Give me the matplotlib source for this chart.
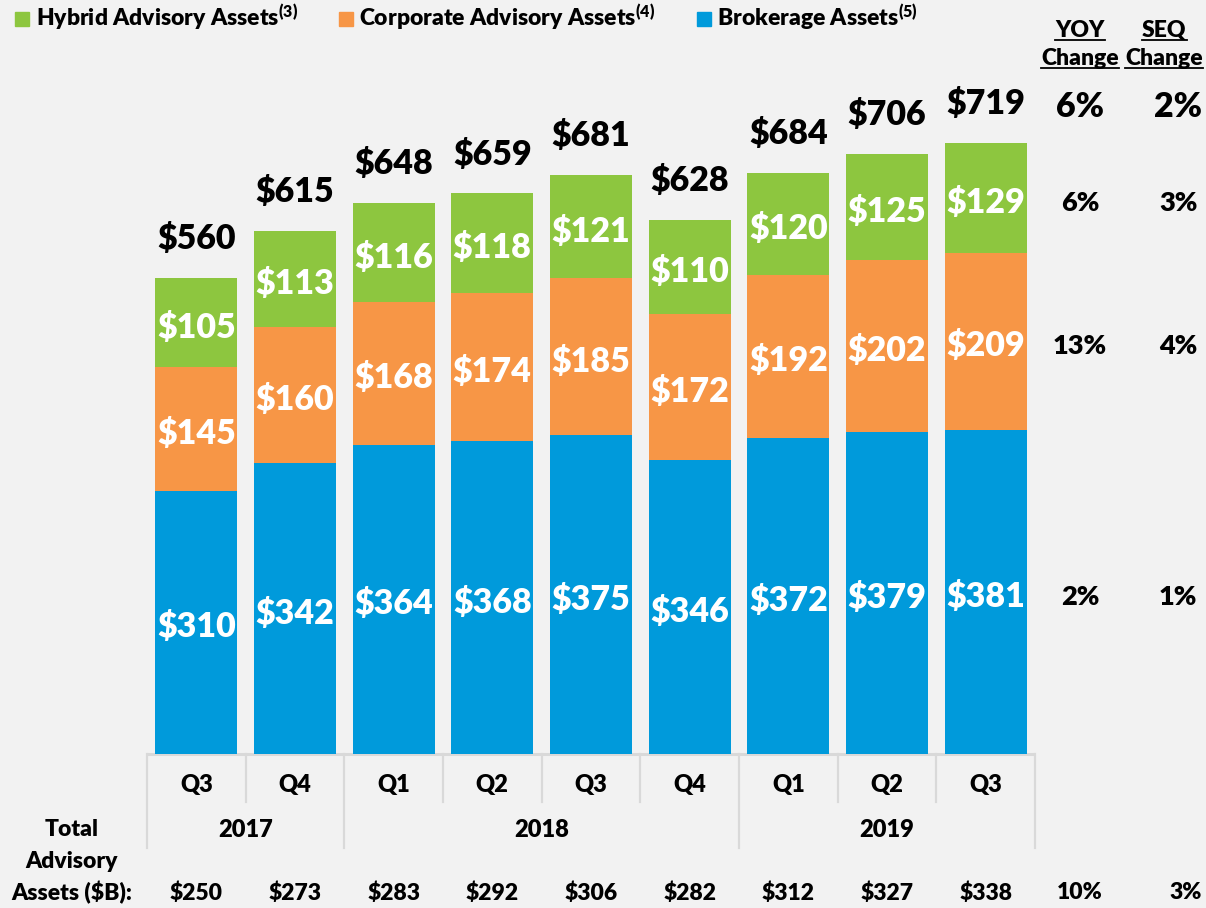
import numpy as np
import matplotlib
matplotlib.use("Agg")
import matplotlib.pyplot as plt
from matplotlib.lines import Line2D

plt.rcParams['font.family'] = ['Lato', 'DejaVu Sans']
plt.rcParams['font.weight'] = 'heavy'
plt.rcParams['mathtext.fontset'] = 'custom'
plt.rcParams['mathtext.rm'] = 'Lato:heavy'
plt.rcParams['mathtext.bf'] = 'Lato:heavy'
plt.rcParams['mathtext.default'] = 'rm'

quarters = ["Q3", "Q4", "Q1", "Q2", "Q3", "Q4", "Q1", "Q2", "Q3"]
years = ["2017", "2018", "2019"]
year_spans = [(0, 1), (2, 5), (6, 8)]
brokerage = [310, 342, 364, 368, 375, 346, 372, 379, 381]
corporate = [145, 160, 168, 174, 185, 172, 192, 202, 209]
hybrid = [105, 113, 116, 118, 121, 110, 120, 125, 129]
totals = [560, 615, 648, 659, 681, 628, 684, 706, 719]
advisory_total = [250, 273, 283, 292, 306, 282, 312, 327, 338]
yoy = ["6%", "6%", "13%", "2%"]      # total, hybrid, corporate, brokerage
seq = ["2%", "3%", "4%", "1%"]
adv_yoy = "10%"
adv_seq = "3%"

GREEN = "#8DC63F"
ORANGE = "#F79646"
BLUE = "#009ADB"
BG = "#F2F2F2"
GRID = "#D9D9D9"

fig = plt.figure(figsize=(12.06, 9.08), dpi=100, facecolor=BG)
ax = fig.add_axes([0, 0, 1, 1])
ax.set_facecolor(BG)
ax.set_xlim(-1.989, 10.233)
ax.set_ylim(-181.2, 887.1)
ax.axis('off')

x = np.arange(len(quarters))
b = np.array(brokerage)
c = np.array(corporate)
h = np.array(hybrid)
w = 0.83
ax.bar(x, b, w, color=BLUE, zorder=2)
ax.bar(x, c, w, bottom=b, color=ORANGE, zorder=2)
ax.bar(x, h, w, bottom=b + c, color=GREEN, zorder=2)

# segment labels (nudged a little below centre like the original)
dy = -6
for i in x:
    ax.text(i, b[i] / 2 + dy, f"${b[i]}", ha='center', va='center', color='white', fontsize=24.5)
    ax.text(i, b[i] + c[i] / 2 + dy, f"${c[i]}", ha='center', va='center', color='white', fontsize=24.5)
    ax.text(i, b[i] + c[i] + h[i] / 2 + dy, f"${h[i]}", ha='center', va='center', color='white', fontsize=24.5)
    ax.text(i, totals[i] + 46, f"${totals[i]}", ha='center', va='center', color='black', fontsize=24.5)

# axis lines / category separators
ax.plot([-0.5, 8.5], [0, 0], color=GRID, lw=2.2, zorder=1, solid_capstyle='butt')
for k in range(10):
    bnd = k - 0.5
    low = -110.6 if k in (0, 2, 6, 9) else -56.5
    ax.plot([bnd, bnd], [0, low], color=GRID, lw=1.6, zorder=1)

for i, q in enumerate(quarters):
    ax.text(i, -36.5, q, ha='center', va='center', fontsize=17)
for yr, (s, e) in zip(years, year_spans):
    ax.text((s + e) / 2, -89.4, yr, ha='center', va='center', fontsize=17)
for i, v in enumerate(advisory_total):
    ax.text(i, -163.5, f"${v}", ha='center', va='center', fontsize=16.5)

lx = -1.26
ax.text(lx, -89.4, "Total", ha='center', va='center', fontsize=16.5)
ax.text(lx, -127, "Advisory", ha='center', va='center', fontsize=16.5)
ax.text(lx, -163.5, "Assets ($B):", ha='center', va='center', fontsize=16.5)

# right side change columns
yx, sx = 8.956, 9.81
heads = [ax.text(yx, 851.8, "YOY", ha='center', va='center', fontsize=16.5),
         ax.text(yx, 818.8, "Change", ha='center', va='center', fontsize=16.5),
         ax.text(sx, 851.8, "SEQ", ha='center', va='center', fontsize=16.5),
         ax.text(sx, 818.8, "Change", ha='center', va='center', fontsize=16.5)]

last = len(quarters) - 1
row_y = [totals[last] + 42,
         b[last] + c[last] + h[last] / 2 + dy,
         b[last] + c[last] / 2 + dy,
         b[last] / 2 + dy]
for k in range(4):
    fs = 24.5 if k == 0 else 19.5
    ax.text(yx, row_y[k], yoy[k], ha='center', va='center', fontsize=fs)
    ax.text(9.95, row_y[k], seq[k], ha='center', va='center', fontsize=fs)
ax.text(yx, -163.5, adv_yoy, ha='center', va='center', fontsize=16.5)
ax.text(10.03, -163.5, adv_seq, ha='center', va='center', fontsize=16.5)

# legend
handles = [Line2D([], [], ls='none', marker='s', ms=10, color=GREEN),
           Line2D([], [], ls='none', marker='s', ms=10, color=ORANGE),
           Line2D([], [], ls='none', marker='s', ms=10, color=BLUE)]
labels = [r"Hybrid Advisory Assets$^{(3)}$",
          r"Corporate Advisory Assets$^{(4)}$",
          r"Brokerage Assets$^{(5)}$"]
fig.legend(handles, labels, loc='upper left', bbox_to_anchor=(0.0, 1.012), ncol=3,
           frameon=False, fontsize=16.5, handletextpad=0.25, columnspacing=1.75,
           handlelength=0.7, borderaxespad=0.2)

# underline the column headings
fig.canvas.draw()
r = fig.canvas.get_renderer()
for t in heads:
    bb = t.get_window_extent(r)
    ybase = bb.y0 + 1
    fig.add_artist(Line2D([bb.x0, bb.x1], [ybase, ybase], transform=None,
                          color='black', lw=1.3))

fig.savefig("out.png", dpi=100, facecolor=BG)
